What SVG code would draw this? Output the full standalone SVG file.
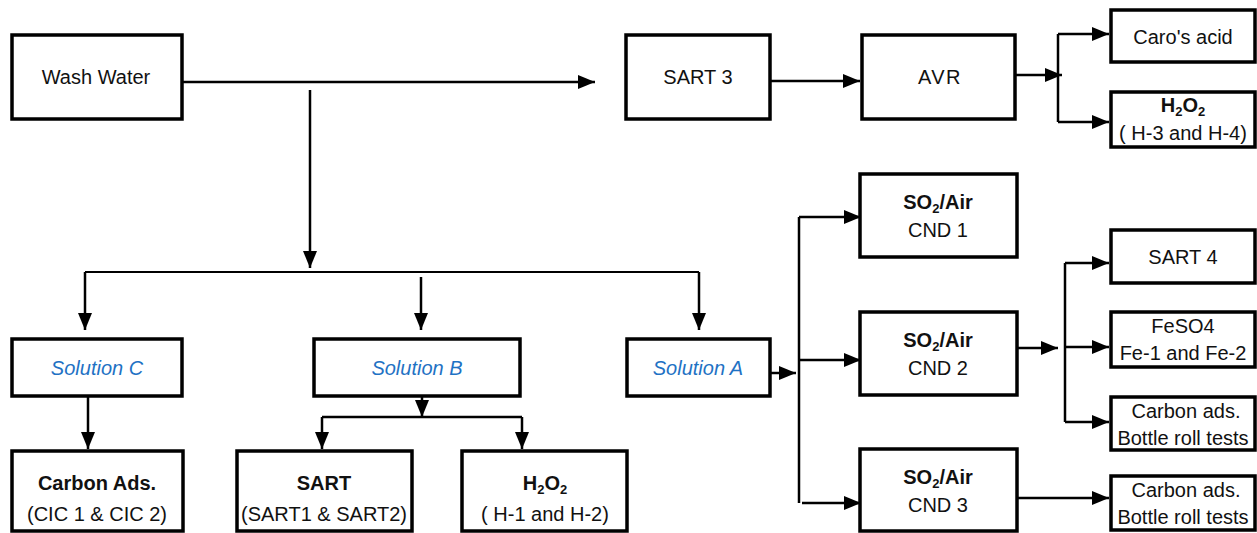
<svg xmlns="http://www.w3.org/2000/svg" width="1257" height="533" viewBox="0 0 1257 533">
<defs>
<marker id="ah" markerUnits="userSpaceOnUse" markerWidth="17" markerHeight="14" refX="17" refY="7" orient="auto">
<path d="M0,0 L17,7 L0,14 z" fill="#000"/>
</marker>
<style>
.box{fill:#fff;stroke:#000;stroke-width:3.5}
.t{font-family:"Liberation Sans",Arial,sans-serif;font-size:20px;fill:#111;text-anchor:middle}
.b{font-weight:bold}
.sol{font-style:italic;fill:#1f72c4}
.c{fill:none;stroke:#000;stroke-width:2.5}
.a{fill:none;stroke:#000;stroke-width:2.5;marker-end:url(#ah)}
</style>
</defs>
<g id="connectors">
<path class="a" d="M182,82 H595"/>
<path class="a" d="M770,81 H860"/>
<path class="a" d="M1015,75 H1062"/>
<path class="c" d="M1058,34 V122"/>
<path class="a" d="M1058,34 H1109"/>
<path class="a" d="M1058,122 H1109"/>
<path class="a" d="M310,90 V268"/>
<path class="c" d="M85,272 H699" style="stroke-width:2"/>
<path class="a" d="M85,272 V330"/>
<path class="a" d="M421,277 V330"/>
<path class="a" d="M699,272 V330"/>
<path class="a" d="M88,396 V449"/>
<path class="a" d="M422,396 V417"/>
<path class="c" d="M322,417 H522"/>
<path class="a" d="M322,417 V449"/>
<path class="a" d="M522,417 V449"/>
<path class="a" d="M770,373 H796"/>
<path class="c" d="M799,217 V503"/>
<path class="a" d="M799,217 H861"/>
<path class="a" d="M799,360 H861"/>
<path class="a" d="M802,503 H861"/>
<path class="a" d="M1017,348 H1058"/>
<path class="c" d="M1065,263 V422"/>
<path class="a" d="M1065,263 H1109"/>
<path class="a" d="M1065,347 H1109"/>
<path class="a" d="M1065,422 H1109"/>
<path class="a" d="M1017,498 H1109"/>
</g>
<g id="wash-water"><rect class="box" x="12" y="35" width="170" height="84"/><text class="t" x="96" y="84">Wash Water</text></g>
<g id="sart3"><rect class="box" x="626" y="35" width="144" height="84"/><text class="t" x="698" y="84">SART 3</text></g>
<g id="avr"><rect class="box" x="862" y="35" width="153" height="84"/><text class="t" x="940" y="84" letter-spacing="1.5">AVR</text></g>
<g id="caros-acid"><rect class="box" x="1111" y="10" width="144" height="52"/><text class="t" x="1183" y="44">Caro's acid</text></g>
<g id="h2o2-h3h4"><rect class="box" x="1111" y="92" width="144" height="55"/><text class="t b" x="1183" y="112">H<tspan font-size="13" dy="4">2</tspan><tspan dy="-4">O</tspan><tspan font-size="13" dy="4">2</tspan></text><text class="t" x="1183" y="140">( H-3 and H-4)</text></g>
<g id="solution-c"><rect class="box" x="12" y="339" width="170" height="57"/><text class="t sol" x="97" y="375">Solution C</text></g>
<g id="solution-b"><rect class="box" x="314" y="339" width="206" height="57"/><text class="t sol" x="417" y="375">Solution B</text></g>
<g id="solution-a"><rect class="box" x="627" y="339" width="143" height="57"/><text class="t sol" x="698" y="375">Solution A</text></g>
<g id="carbon-ads-cic"><rect class="box" x="12" y="451" width="171" height="80"/><text class="t b" x="97" y="490">Carbon Ads.</text><text class="t" x="97" y="521">(CIC 1 &amp; CIC 2)</text></g>
<g id="sart"><rect class="box" x="237" y="451" width="175" height="80"/><text class="t b" x="324" y="490">SART</text><text class="t" x="324" y="521">(SART1 &amp; SART2)</text></g>
<g id="h2o2-h1h2"><rect class="box" x="462" y="451" width="165" height="80"/><text class="t b" x="545" y="490">H<tspan font-size="13" dy="4">2</tspan><tspan dy="-4">O</tspan><tspan font-size="13" dy="4">2</tspan></text><text class="t" x="545" y="521">( H-1 and H-2)</text></g>
<g id="cnd1"><rect class="box" x="860" y="174" width="157" height="83"/><text class="t b" x="938" y="209">SO<tspan font-size="13" dy="4">2</tspan><tspan dy="-4">/Air</tspan></text><text class="t" x="938" y="237">CND 1</text></g>
<g id="cnd2"><rect class="box" x="860" y="312" width="157" height="83"/><text class="t b" x="938" y="347">SO<tspan font-size="13" dy="4">2</tspan><tspan dy="-4">/Air</tspan></text><text class="t" x="938" y="375">CND 2</text></g>
<g id="cnd3"><rect class="box" x="860" y="449" width="157" height="82"/><text class="t b" x="938" y="484">SO<tspan font-size="13" dy="4">2</tspan><tspan dy="-4">/Air</tspan></text><text class="t" x="938" y="512">CND 3</text></g>
<g id="sart4"><rect class="box" x="1111" y="230" width="144" height="53"/><text class="t" x="1183" y="264">SART 4</text></g>
<g id="feso4"><rect class="box" x="1111" y="312" width="144" height="55"/><text class="t" x="1183" y="333">FeSO4</text><text class="t" x="1183" y="360">Fe-1 and Fe-2</text></g>
<g id="carbon-ads-2"><rect class="box" x="1111" y="397" width="144" height="53"/><text class="t" x="1186" y="418">Carbon ads.</text><text class="t" x="1183" y="445">Bottle roll tests</text></g>
<g id="carbon-ads-3"><rect class="box" x="1111" y="476" width="144" height="54"/><text class="t" x="1186" y="497">Carbon ads.</text><text class="t" x="1183" y="524">Bottle roll tests</text></g>
</svg>
